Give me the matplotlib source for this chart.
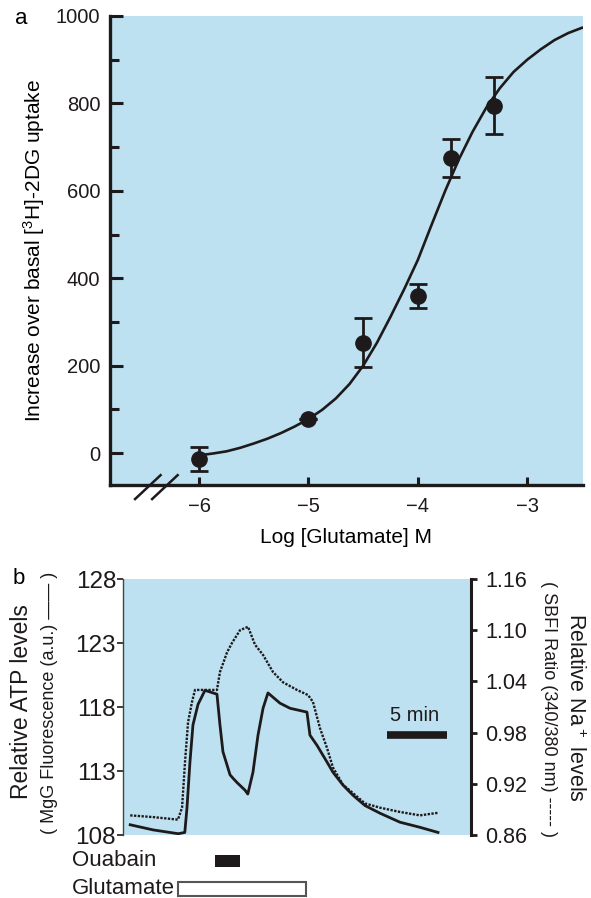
import matplotlib
matplotlib.use('Agg')
import matplotlib.pyplot as plt
import numpy as np

plt.rcParams['font.family'] = ['Liberation Sans', 'DejaVu Sans']
plt.rcParams['mathtext.fontset'] = 'custom'
plt.rcParams['mathtext.rm'] = 'Liberation Sans'

# panel a: dose response
log_glu = [-6.0, -5.0, -4.5, -4.0, -3.7, -3.3]
uptake = [-13, 78, 252, 360, 675, 795]
uptake_err = [27, 0, 56, 28, 43, 65]

# fitted curve
curve_x = [-6.0, -5.875, -5.75, -5.625, -5.5, -5.375, -5.25, -5.125, -5.0,
           -4.875, -4.75, -4.625, -4.5, -4.375, -4.25, -4.125, -4.0,
           -3.875, -3.75, -3.625, -3.5, -3.375, -3.25, -3.125, -3.0,
           -2.875, -2.75, -2.625, -2.5]
curve_y = [-5, -1, 4, 12, 22, 33, 46, 61, 78,
           99, 125, 158, 200, 252, 312, 375, 442,
           522, 600, 672, 735, 790, 835, 872, 900,
           924, 945, 961, 973]

# panel b: traces (time in min)
atp_t = [0.6, 2.5, 4.6, 5.15, 5.33, 5.58, 5.83, 6.25, 6.83, 7.5, 7.83, 8.08,
         8.33, 8.92, 9.2, 9.5, 10.17, 10.4, 10.83, 11.25, 11.67, 12.08, 13.08,
         13.92, 15.33, 15.58, 16.17, 17.0, 17.5, 18.33, 19.17, 20.17, 21.42,
         23.08, 24.75, 26.25]
atp = [108.8, 108.4, 108.1, 108.2, 110.1, 113.7, 116.6, 118.2, 119.3, 119.1, 119.0, 116.6,
       114.5, 112.7, 112.4, 112.1, 111.5, 111.2, 112.9, 115.8, 117.9, 119.1, 118.3,
       117.9, 117.6, 115.8, 115.0, 113.7, 112.9, 111.9, 111.1, 110.3, 109.7,
       109.0, 108.6, 108.2]

na_t = [0.6, 2.5, 4.58, 4.92, 5.17, 5.42, 5.75, 6.0, 6.42, 7.83, 8.08, 8.67,
        9.08, 9.75, 10.42, 11.0, 11.67, 12.5, 13.33, 14.5, 15.42, 15.83, 16.42,
        17.0, 17.5, 18.33, 19.17, 20.17, 21.42, 23.08, 24.75, 26.25]
na = [0.883, 0.881, 0.878, 0.892, 0.946, 0.992, 1.016, 1.030, 1.030, 1.030, 1.051, 1.074,
      1.085, 1.100, 1.104, 1.083, 1.071, 1.051, 1.039, 1.030, 1.024, 1.016, 0.985,
      0.962, 0.939, 0.919, 0.909, 0.897, 0.892, 0.887, 0.883, 0.886]

ouabain = (7.7, 9.75)
glutamate = (4.55, 15.25)
scale_bar = (22.0, 27.0)

bg = '#bde1f1'
ink = '#1e1a1b'

fig = plt.figure(figsize=(5.91, 8.98), dpi=100)

# ---------- a ----------
ax = fig.add_axes([110/591, 1-485/898, 473/591, 469/898])
ax.set_facecolor(bg)
ax.plot(curve_x, curve_y, color=ink, lw=1.9, zorder=2)
ax.errorbar(log_glu, uptake, yerr=uptake_err, fmt='o', color=ink, ms=11,
            capsize=6.5, capthick=2, elinewidth=2, zorder=3)
ax.set_xlim(-6.815, -2.49)
ax.set_ylim(-73, 1000)
ax.set_xticks([-6, -5, -4, -3])
ax.set_yticks([0, 200, 400, 600, 800, 1000])
ax.set_yticks([100, 300, 500, 700, 900], minor=True)
for s in ['top', 'right']:
    ax.spines[s].set_visible(False)
for s in ['left', 'bottom']:
    ax.spines[s].set_linewidth(2.4)
    ax.spines[s].set_color(ink)
ax.tick_params(axis='y', which='major', direction='in', length=9.5, width=2.2,
               labelsize=14.5, pad=7, colors=ink)
ax.tick_params(axis='y', which='minor', direction='in', length=6.5, width=2.2, colors=ink)
ax.tick_params(axis='x', direction='in', length=6, width=2.2, labelsize=14.5,
               pad=9, colors=ink)
ax.set_xlabel('Log [Glutamate] M', fontsize=15, labelpad=8)
ax.set_ylabel(r'Increase over basal [$\mathregular{^3}$H]-2DG uptake', fontsize=15, labelpad=6)
# axis break
for x0 in [0.053, 0.089]:
    ax.plot([x0, x0 + 0.054], [-0.03, 0.021], transform=ax.transAxes,
            color=ink, lw=1.8, clip_on=False)
fig.text(15/591, 1-18/898, 'a', fontsize=16, ha='left', va='center')

# ---------- b ----------
axb = fig.add_axes([123/591, 1-835/898, 348/591, 256/898])
axb.set_facecolor(bg)
axb.plot(atp_t, atp, color=ink, lw=2.0)
axb.set_xlim(0, 29.0)
axb.set_ylim(108, 128)
axb.set_yticks([108, 113, 118, 123, 128])
axb.set_xticks([])
axr = axb.twinx()
axr.plot(na_t, na, color=ink, lw=1.7, ls=(0, (1, 0.6)))
axr.set_ylim(0.86, 1.16)
axr.set_yticks([0.86, 0.92, 0.98, 1.04, 1.10, 1.16])
axr.set_yticklabels(['0.86', '0.92', '0.98', '1.04', '1.10', '1.16'])
for a in (axb, axr):
    a.spines['top'].set_visible(False)
    a.spines['bottom'].set_visible(False)
axb.spines['right'].set_visible(False)
axr.spines['left'].set_visible(False)
axb.spines['left'].set_linewidth(1.0)
axb.spines['left'].set_color('#444444')
axr.spines['right'].set_linewidth(2.2)
axr.spines['right'].set_color(ink)
axb.tick_params(axis='y', direction='out', length=4, width=1.2, labelsize=17.5,
                pad=1, colors=ink)
axr.tick_params(axis='y', direction='out', length=4, width=2, labelsize=15.5,
                pad=6, colors=ink)

# scale bar
axb.plot(scale_bar, [115.8, 115.8], color=ink, lw=5.5, solid_capstyle='butt')
axb.text(sum(scale_bar)/2 - 0.2, 116.9, '5 min', fontsize=14.5, ha='center',
         va='baseline', color=ink)

fig.text(22/591, 1-702/898, 'Relative ATP levels', rotation=90, fontsize=16.5,
         ha='center', va='center', color=ink)
fig.text(50/591, 1-703/898, '( MgG Fluorescence (a.u.) \u2014\u2014 )', rotation=90,
         fontsize=13, ha='center', va='center', color=ink)
fig.text(548/591, 1-709/898, '( SBFI Ratio (340/380 nm) ----- )', rotation=270,
         fontsize=13, ha='center', va='center', color=ink)
fig.text(575/591, 1-707/898, r'Relative Na$\mathregular{^+}$ levels', rotation=270,
         fontsize=15.5, ha='center', va='center', color=ink)
fig.text(13/591, 1-578/898, 'b', fontsize=16, ha='left', va='center')

# treatment bars
axt = fig.add_axes([123/591, 0, 348/591, 51/898], sharex=axb)
axt.axis('off')
axt.set_ylim(-0.32, 1.5)
axt.barh(1, ouabain[1] - ouabain[0], left=ouabain[0], height=0.43, color=ink)
axt.barh(0, glutamate[1] - glutamate[0], left=glutamate[0], height=0.5,
         color='white', edgecolor='#555555', lw=1.5)
fig.text(72/591, 1-860/898, 'Ouabain', fontsize=16, ha='left', va='center', color=ink)
fig.text(72/591, 1-888/898, 'Glutamate', fontsize=16, ha='left', va='center', color=ink)

fig.savefig('out.png', dpi=100)
